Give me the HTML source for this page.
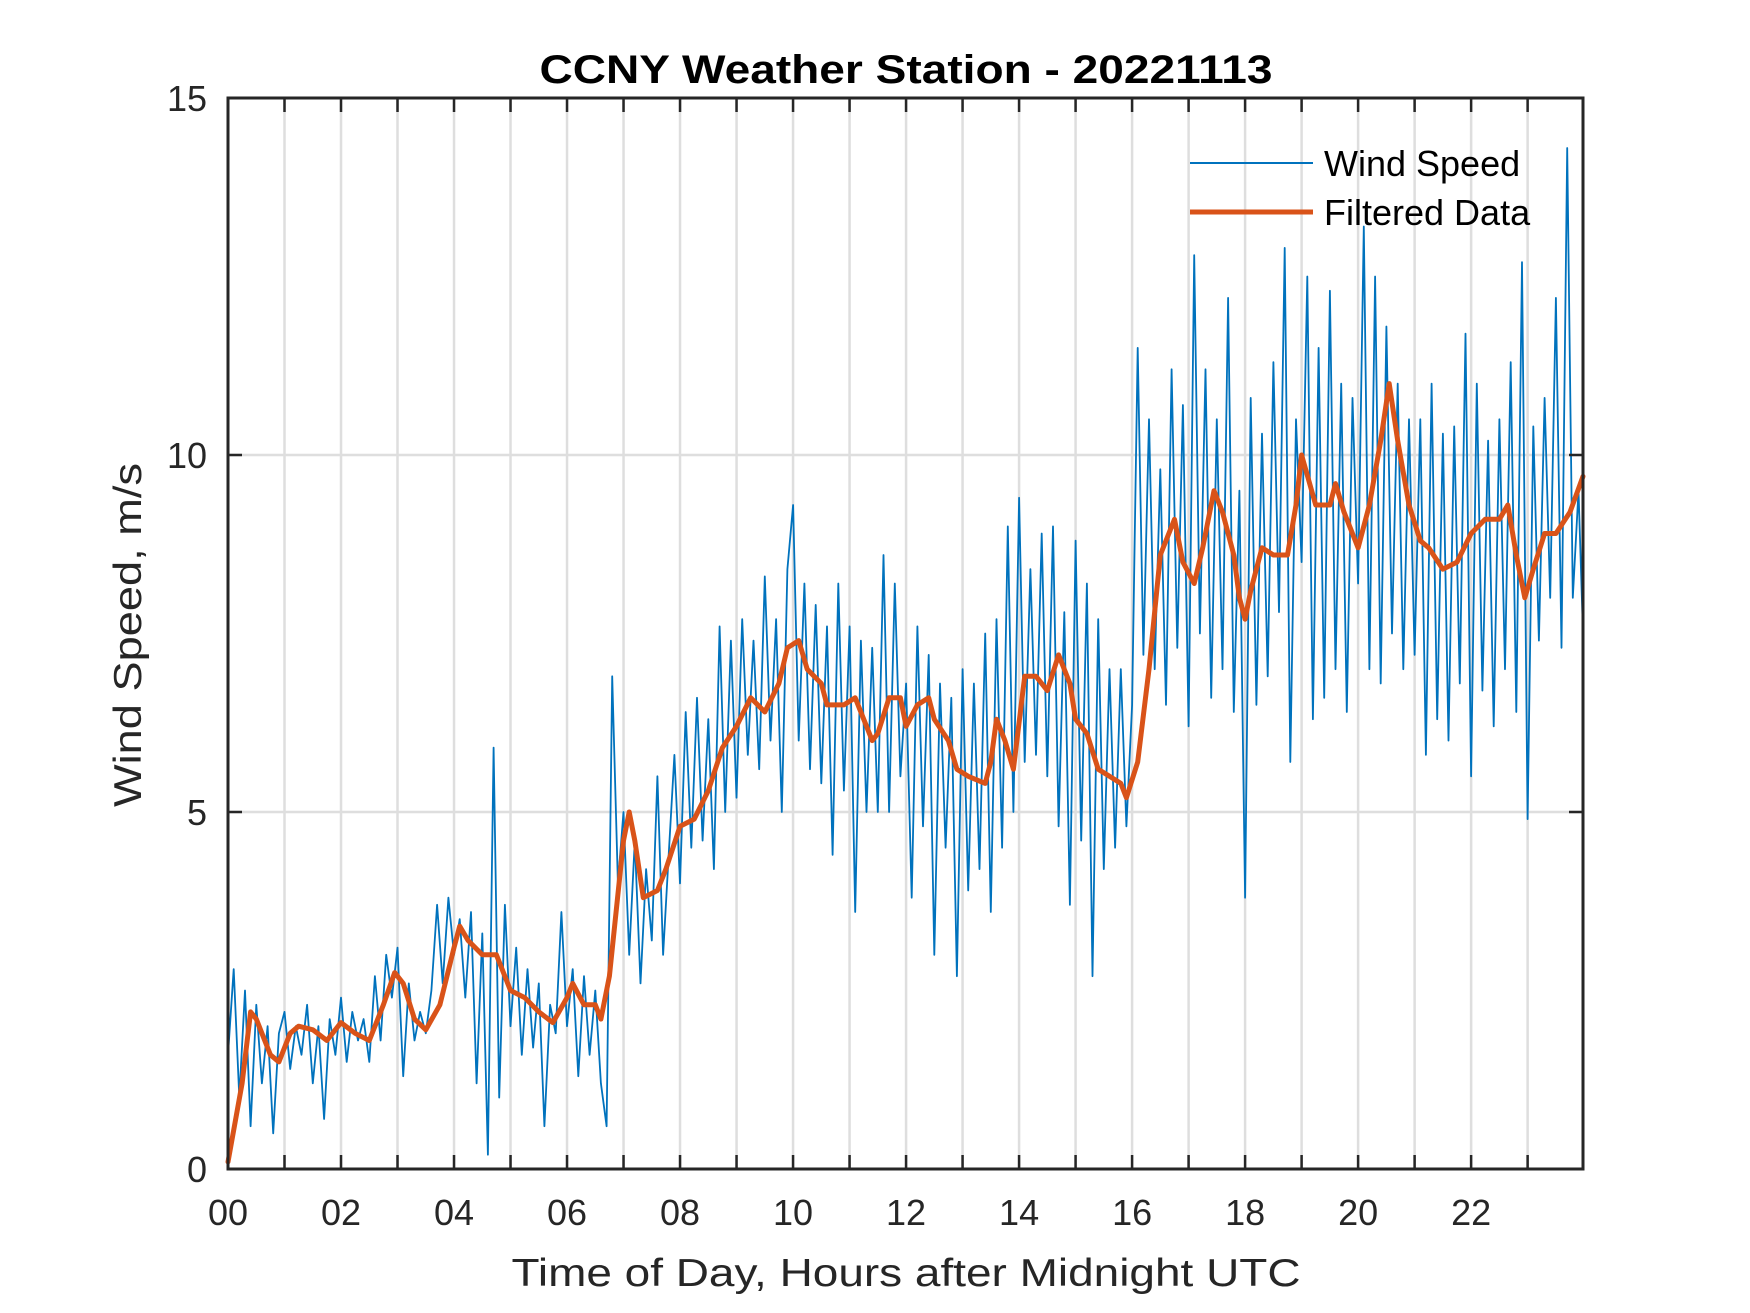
<!DOCTYPE html>
<html><head><meta charset="utf-8">
<style>
html,body{margin:0;padding:0;background:#fff;}
svg{display:block;font-family:"Liberation Sans",Arial,sans-serif;}
</style></head>
<body>
<svg id="chart" width="1750" height="1313" viewBox="0 0 1750 1313" xmlns="http://www.w3.org/2000/svg">
  <rect width="1750" height="1313" fill="#fff"/>
  <g id="grid"></g>
  <g id="plot"></g>
  <g id="axes"></g>
  <text x="906" y="83" text-anchor="middle" font-weight="bold" font-size="40" textLength="733" lengthAdjust="spacingAndGlyphs" fill="#000">CCNY Weather Station - 20221113</text>
  <text x="906" y="1286" text-anchor="middle" font-size="39" textLength="789" lengthAdjust="spacingAndGlyphs" fill="#262626">Time of Day, Hours after Midnight UTC</text>
  <text transform="translate(141,635) rotate(-90)" text-anchor="middle" font-size="39" textLength="344" lengthAdjust="spacingAndGlyphs" fill="#262626">Wind Speed, m/s</text>
  <g>
    <line x1="1190" y1="163" x2="1313" y2="163" stroke="#0072BD" stroke-width="2"/>
    <text x="1324" y="176" font-size="36" fill="#000">Wind Speed</text>
    <line x1="1190" y1="212" x2="1313" y2="212" stroke="#D95319" stroke-width="5"/>
    <text x="1324" y="225" font-size="36" fill="#000">Filtered Data</text>
  </g>
</svg>
<script>
const xTickLabels = ["00","02","04","06","08","10","12","14","16","18","20","22"];
const yTickValues = [0,5,10,15];
const rawHours = 0.1;
const rawSpeed = [
1.6,2.8,1.0,2.5,0.6,2.3,1.2,2.0,0.5,1.9,
2.2,1.4,2.0,1.6,2.3,1.2,2.0,0.7,2.1,1.6,
2.4,1.5,2.2,1.8,2.1,1.5,2.7,1.8,3.0,2.4,
3.1,1.3,2.6,1.8,2.2,1.9,2.5,3.7,2.6,3.8,
3.0,3.5,2.4,3.6,1.2,3.3,0.2,5.9,1.0,3.7,
2.0,3.1,1.6,2.8,1.7,2.6,0.6,2.3,1.9,3.6,
2.0,2.8,1.3,2.7,1.6,2.5,1.2,0.6,6.9,4.0,
5.0,3.0,4.6,2.6,4.2,3.2,5.5,3.0,4.4,5.8,
4.0,6.4,4.5,6.6,4.6,6.3,4.2,7.6,5.0,7.4,
5.2,7.7,5.8,7.4,5.6,8.3,6.0,7.7,5.0,8.4,
9.3,6.0,8.2,5.6,7.9,5.4,7.6,4.4,8.2,5.3,
7.6,3.6,7.4,5.0,7.3,5.0,8.6,5.0,8.2,5.5,
6.8,3.8,7.6,4.8,7.2,3.0,6.8,4.5,6.6,2.7,
7.0,3.9,6.8,4.2,7.5,3.6,7.7,4.5,9.0,5.0,
9.4,5.7,8.4,5.8,8.9,5.5,9.0,4.8,7.8,3.7,
8.8,4.6,8.2,2.7,7.7,4.2,7.0,4.5,7.0,4.8,
6.5,11.5,7.2,10.5,7.0,9.8,6.5,11.2,7.3,10.7,
6.2,12.8,7.5,11.2,6.6,10.5,7.0,12.2,6.4,9.5,
3.8,10.8,6.5,10.3,6.9,11.3,7.8,12.9,5.7,10.5,
8.5,12.5,6.3,11.5,6.6,12.3,7.0,11.0,6.4,10.8,
8.2,13.2,7.0,12.5,6.8,11.8,7.5,11.0,7.0,10.5,
7.2,10.5,5.8,11.0,6.3,10.3,6.0,10.4,6.8,11.7,
5.5,11.0,6.7,10.2,6.2,10.5,7.0,11.3,6.4,12.7,
4.9,10.4,7.4,10.8,8.0,12.2,7.3,14.3,8.0,9.5,
7.5];
const filtHours = [0.0,0.25,0.4,0.5,0.75,0.9,1.1,1.25,1.5,1.75,2.0,2.25,2.5,2.75,2.95,3.1,3.3,3.5,3.75,4.0,4.1,4.25,4.5,4.75,5.0,5.25,5.5,5.75,6.0,6.1,6.3,6.5,6.6,6.75,7.0,7.1,7.2,7.35,7.6,7.75,8.0,8.25,8.5,8.75,9.0,9.25,9.5,9.75,9.9,10.1,10.25,10.5,10.6,10.9,11.1,11.4,11.5,11.7,11.9,12.0,12.2,12.4,12.5,12.75,12.9,13.1,13.4,13.5,13.6,13.75,13.9,14.1,14.3,14.5,14.7,14.9,15.0,15.2,15.4,15.6,15.8,15.9,16.1,16.3,16.5,16.75,16.9,17.1,17.25,17.45,17.6,17.8,17.9,18.0,18.1,18.3,18.5,18.75,18.9,19.0,19.25,19.5,19.6,19.75,20.0,20.2,20.4,20.55,20.7,20.9,21.1,21.25,21.5,21.75,22.0,22.25,22.5,22.65,22.8,22.95,23.1,23.3,23.5,23.75,23.98];
const filtSpeed = [0.1,1.2,2.2,2.1,1.6,1.5,1.9,2.0,1.95,1.8,2.05,1.9,1.8,2.3,2.75,2.6,2.1,1.95,2.3,3.1,3.4,3.2,3.0,3.0,2.5,2.4,2.2,2.05,2.4,2.6,2.3,2.3,2.1,2.7,4.6,5.0,4.6,3.8,3.9,4.2,4.8,4.9,5.3,5.9,6.2,6.6,6.4,6.8,7.3,7.4,7.0,6.8,6.5,6.5,6.6,6.0,6.1,6.6,6.6,6.2,6.5,6.6,6.3,6.0,5.6,5.5,5.4,5.7,6.3,6.0,5.6,6.9,6.9,6.7,7.2,6.8,6.3,6.1,5.6,5.5,5.4,5.2,5.7,7.0,8.6,9.1,8.5,8.2,8.7,9.5,9.2,8.6,8.0,7.7,8.1,8.7,8.6,8.6,9.3,10.0,9.3,9.3,9.6,9.2,8.7,9.3,10.2,11.0,10.2,9.3,8.8,8.7,8.4,8.5,8.9,9.1,9.1,9.3,8.6,8.0,8.4,8.9,8.9,9.2,9.7];

const NS="http://www.w3.org/2000/svg";
const X0=228, X1=1583, Y0=1169, Y1=98, XMAX=23.98;
const xs = h => X0 + h/XMAX*(X1-X0);
const ys = v => Y0 - v/15*(Y0-Y1);
function mk(tag, attrs, parent){const e=document.createElementNS(NS,tag);for(const k in attrs)e.setAttribute(k,attrs[k]);parent.appendChild(e);return e;}
const grid=document.getElementById('grid'), plot=document.getElementById('plot'), axes=document.getElementById('axes');

for(let h=1;h<24;h++){
  const g=mk('line',{x1:xs(h),x2:xs(h),y1:Y1,y2:Y0,stroke:'#dedede','stroke-width':2.5},grid);
  
  
}
yTickValues.slice(1,3).forEach(v=>{
  const g=mk('line',{x1:X0,x2:X1,y1:ys(v),y2:ys(v),stroke:'#dedede','stroke-width':2.5},grid);
  
  
});

let d='';
rawSpeed.forEach((v,i)=>{const h=Math.min(i*rawHours,XMAX);d+=(i?'L':'M')+xs(h).toFixed(1)+','+ys(v).toFixed(1);});
const raw=mk('path',{d:d,fill:'none',stroke:'#0072BD','stroke-width':1.8,'stroke-linejoin':'round'},plot);



let d2='';
filtSpeed.forEach((v,i)=>{d2+=(i?'L':'M')+xs(filtHours[i]).toFixed(1)+','+ys(v).toFixed(1);});
const filt=mk('path',{d:d2,fill:'none',stroke:'#D95319','stroke-width':5,'stroke-linejoin':'round','stroke-linecap':'round'},plot);



const box=mk('rect',{x:X0,y:Y1,width:X1-X0,height:Y0-Y1,fill:'none',stroke:'#262626','stroke-width':3},axes);



for(let h=1;h<24;h++){
  const t=mk('path',{d:`M${xs(h)},${Y0}v-14M${xs(h)},${Y1}v14`,stroke:'#262626','stroke-width':2.5},axes);
  
  
}
xTickLabels.forEach((lab,i)=>{
  const t=mk('text',{x:xs(i*2),y:1225,'text-anchor':'middle','font-size':36,fill:'#262626'},axes);
  t.textContent=lab;
  
  
});
yTickValues.forEach(v=>{
  const t=mk('text',{x:207,y:ys(v)+13,'text-anchor':'end','font-size':36,fill:'#262626'},axes);
  t.textContent=String(v);
  
  
  if(v>0&&v<15){
    const tk=mk('path',{d:`M${X0},${ys(v)}h14M${X1},${ys(v)}h-14`,stroke:'#262626','stroke-width':2.5},axes);
    
    
  }
});
</script>
</body></html>
